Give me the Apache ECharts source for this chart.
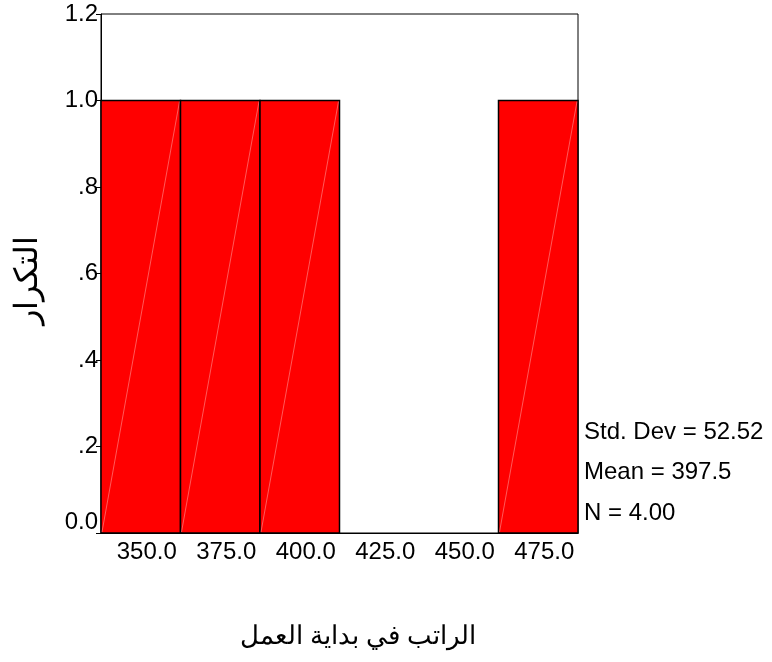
<!DOCTYPE html>
<html><head><meta charset="utf-8">
<script src="https://cdn.jsdelivr.net/npm/echarts@6/dist/echarts.min.js"></script>
<style>html,body{margin:0;padding:0;background:#fff}#c{width:772px;height:662px}</style>
</head><body><div id="c"></div>
<script>
const categories = ['350.0', '375.0', '400.0', '425.0', '450.0', '475.0'];
const frequencies = [1, 1, 1, 0, 0, 1];
const yTickLabels = {0: '0.0', 0.2: '.2', 0.4: '.4', 0.6: '.6', 0.8: '.8', 1: '1.0', 1.2: '1.2'};
const statsLines = ['Std. Dev = 52.52', 'Mean = 397.5', 'N = 4.00'];
const xTitle = 'الراتب في بداية العمل';
const yTitle = 'التكرار';

const FONT = "'Liberation Sans', Arial, sans-serif";
const chart = echarts.init(document.getElementById('c'), null, {renderer: 'canvas'});

const statY = [432, 472, 513];

chart.setOption({
  animation: false,
  backgroundColor: '#fff',
  grid: {left: 101, top: 14, width: 477, height: 519, show: true, borderColor: '#000', borderWidth: 1, backgroundColor: 'transparent'},
  xAxis: {
    type: 'category', data: categories, boundaryGap: true,
    axisLine: {lineStyle: {color: '#000', width: 1}},
    axisTick: {alignWithLabel: true, length: 6, lineStyle: {color: '#000'}},
    axisLabel: {color: '#000', fontFamily: FONT, fontSize: 24, margin: 7, padding: [0, 0, 0, 12]},
    splitLine: {show: false}
  },
  yAxis: {
    type: 'value', min: 0, max: 1.2, interval: 0.2,
    axisLine: {show: true, lineStyle: {color: '#000', width: 1}},
    axisTick: {show: true, length: 5, lineStyle: {color: '#000'}},
    axisLabel: {
      color: '#000', fontFamily: FONT, fontSize: 24, margin: 3,
      formatter: function (v) {
        const key = Math.round(v * 10) / 10;
        const t = yTickLabels[key];
        if (key === 0) return '{z|' + t + '}';
        return t;
      },
      rich: {z: {fontFamily: FONT, fontSize: 24, color: '#000', padding: [0, 0, 22, 0]}}
    },
    splitLine: {show: false}
  },
  series: [{
    type: 'custom',
    data: categories.map((c, i) => [i, frequencies[i]]),
    renderItem: function (params, api) {
      const idx = api.value(0), v = api.value(1);
      if (!v) return null;
      const p0 = api.coord([idx, 0]);
      const p1 = api.coord([idx, v]);
      const w = api.size([1, 0])[0];
      const x0 = p0[0] - w / 2, x1 = p0[0] + w / 2;
      return {
        type: 'group',
        children: [
          {type: 'rect', shape: {x: x0, y: p1[1], width: w, height: p0[1] - p1[1]},
           style: {fill: '#ff0000', stroke: '#000', lineWidth: 1.5}},
          {type: 'line', shape: {x1: x0 + 1, y1: p0[1] - 1, x2: x1 - 1, y2: p1[1] + 1},
           style: {stroke: 'rgba(255,255,255,0.35)', lineWidth: 1}}
        ]
      };
    }
  }],
  graphic: [
    {type: 'text', x: 28, y: 280, rotation: Math.PI / 2,
     style: {text: yTitle, fontSize: 32, fontFamily: FONT, fill: '#000', align: 'center', verticalAlign: 'middle'}},
    {type: 'text', x: 358, y: 637,
     style: {text: xTitle, fontSize: 26, fontFamily: FONT, fill: '#000', align: 'center', verticalAlign: 'middle'}}
  ].concat(statsLines.map((s, i) => ({
    type: 'text', x: 584, y: statY[i],
    style: {text: s, fontSize: 24, fontFamily: FONT, fill: '#000', align: 'left', verticalAlign: 'middle'}
  })))
});
</script></body></html>
